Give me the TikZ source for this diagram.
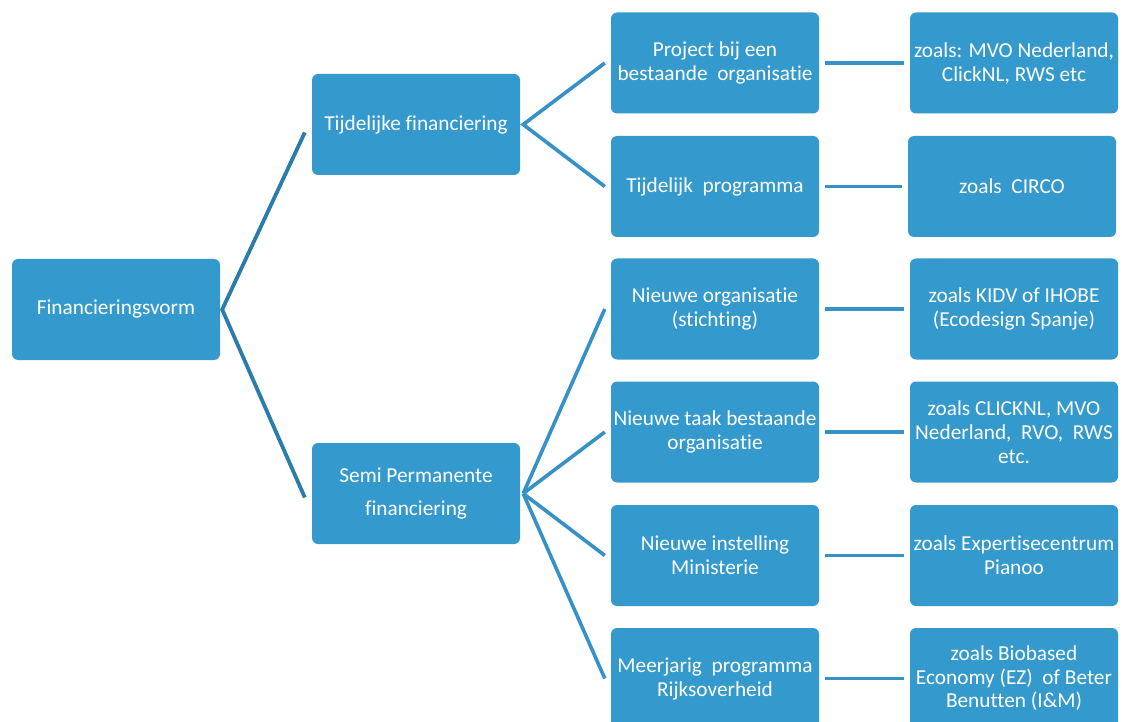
\documentclass[tikz,border=0pt]{standalone}
\usepackage{fontspec}
\setmainfont{Carlito}[RawFeature=-liga]
\definecolor{boxblue}{RGB}{52,153,204}
\definecolor{lineA}{RGB}{44,124,170}
\definecolor{lineB}{RGB}{54,146,198}
\begin{document}
\begin{tikzpicture}[x=1pt,y=-1pt,
  box/.style={fill=boxblue,rounded corners=6pt,minimum width=208pt,minimum height=101pt,
    text=white,align=center,font=\fontsize{21.3}{24}\selectfont,inner sep=0pt},
  linkA/.style={draw=lineA,line width=3.8pt},
  linkB/.style={draw=lineB,line width=3.6pt}]
\useasboundingbox (0,0) rectangle (1122,722);
\node[box] (fv) at (116,309.5) {Financieringsvorm};
\node[box] (tf) at (416,124.5) {Tijdelijke financiering};
\node[box,font=\fontsize{21.3}{33}\selectfont] (sp) at (416,493.5) {Semi Permanente\\financiering};
\node[box] (pb) at (715,63) {Project bij een\\bestaande~ organisatie};
\node[box] (tp) at (715,186.5) {Tijdelijk~ programma};
\node[box] (no) at (715,309) {Nieuwe organisatie\\(stichting)};
\node[box] (nt) at (715,432) {Nieuwe taak bestaande\\organisatie};
\node[box] (ni) at (715,555.5) {Nieuwe instelling\\Ministerie};
\node[box] (mp) at (715,678.5) {Meerjarig~ programma\\Rijksoverheid};
\node[box] (z1) at (1014,63) {zoals: MVO Nederland,\\ClickNL, RWS etc};
\node[box] (z2) at (1012,186.5) {zoals~ CIRCO};
\node[box] (z3) at (1014,309) {zoals KIDV of IHOBE\\(Ecodesign Spanje)};
\node[box] (z4) at (1014,432) {zoals CLICKNL, MVO\\Nederland,~ RVO,~ RWS\\etc.};
\node[box] (z5) at (1014,555.5) {zoals Expertisecentrum\\Pianoo};
\node[box,font=\fontsize{21.3}{23.5}\selectfont] (z6) at (1014,678.5) {zoals Biobased\\Economy (EZ)~ of Beter\\Benutten (I\&M)};
% level 1
\draw[linkA] ([yshift=-8pt]tf.west) ++(-7,0) coordinate (tfin) -- ([xshift=2pt]fv.east) -- ([xshift=-7pt,yshift=-4pt]sp.west);
% level 2
\draw[linkB] ([xshift=-6pt]pb.west) -- ([xshift=3pt]tf.east) -- ([xshift=-6pt]tp.west);
\foreach \t in {no,nt,ni,mp}
  \draw[linkB] ([xshift=3pt]sp.east) -- ([xshift=-6pt]\t.west);
% level 3
\foreach \a/\b in {pb/z1,tp/z2,no/z3,nt/z4,ni/z5,mp/z6}
  \draw[linkB] ([xshift=6pt]\a.east) -- ([xshift=-6pt]\b.west);
\end{tikzpicture}
\end{document}
